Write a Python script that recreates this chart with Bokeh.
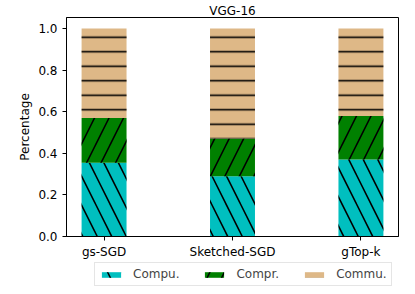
from bokeh.plotting import figure
from bokeh.layouts import column
from bokeh.models import (Range1d, FixedTicker, ColumnDataSource, Legend, LegendItem,
                          PrintfTickFormatter)
from bokeh.embed import file_html
from bokeh.resources import INLINE

# ---- data ----
methods = ["gs-SGD", "Sketched-SGD", "gTop-k"]
compu = [0.355, 0.289, 0.370]
compr = [0.214, 0.182, 0.209]
commu = [0.431, 0.529, 0.421]
series = ["Compu.", "Compr.", "Commu."]
y_ticks = [0.0, 0.2, 0.4, 0.6, 0.8, 1.0]
title = "VGG-16"
y_label = "Percentage"

FONT = "DejaVu Sans"
COLORS = ["#00bfbf", "#008000", "#deb887"]
HATCH = ["\\", "/", "-"]
HSCALE = [29, 29, 14.5]
STACK = ["compu", "compr", "commu"]
xs = list(range(len(methods)))
src = ColumnDataSource(dict(x=xs, compu=compu, compr=compr, commu=commu))

p = figure(width=407, height=261, output_backend="svg", toolbar_location=None,
           x_range=Range1d(-0.2925, 2.2925), y_range=Range1d(0, 1.0525),
           min_border_left=66, min_border_right=9, min_border_bottom=23, min_border_top=17)

p.title.text = title
p.title.align = "center"
p.title.text_font = FONT
p.title.text_font_size = "12px"
p.title.text_font_style = "normal"
p.title.text_color = "black"
p.title.standoff = 0
p.title.offset = 0

rs = p.vbar_stack(STACK, x="x", width=0.35, source=src,
                  fill_color=COLORS, line_color=None,
                  hatch_pattern=HATCH, hatch_color="black",
                  hatch_scale=HSCALE, hatch_weight=1.6)

p.xgrid.visible = False
p.ygrid.visible = False
p.outline_line_color = "black"
p.outline_line_width = 1

for ax in (p.xaxis[0], p.yaxis[0]):
    ax.axis_line_color = "black"
    ax.major_tick_line_color = "black"
    ax.major_tick_out = 4
    ax.major_tick_in = 0
    ax.minor_tick_line_color = None
    ax.major_label_text_font = FONT
    ax.major_label_text_font_size = "12px"
    ax.major_label_text_color = "black"

p.xaxis.ticker = FixedTicker(ticks=xs)
p.xaxis.major_label_overrides = {i: m for i, m in zip(xs, methods)}
p.xaxis.major_label_standoff = 4
p.xaxis.axis_label = None
p.xaxis.axis_label_standoff = 0
p.yaxis.ticker = FixedTicker(ticks=y_ticks)
p.yaxis.formatter = PrintfTickFormatter(format="%.1f")
p.yaxis.major_label_standoff = 5
p.yaxis.axis_label = y_label
p.yaxis.axis_label_text_font = FONT
p.yaxis.axis_label_text_font_size = "12px"
p.yaxis.axis_label_text_font_style = "normal"
p.yaxis.axis_label_text_color = "black"
p.yaxis.axis_label_standoff = 3

# ---- legend strip below the chart (its bars sit outside its visible y range) ----
q = figure(width=407, height=25, output_backend="svg", toolbar_location=None,
           x_range=Range1d(-0.2925, 2.2925), y_range=Range1d(2, 3),
           x_axis_location=None, y_axis_location=None,
           min_border_left=66, min_border_right=9, min_border_top=0, min_border_bottom=0)
q.grid.visible = False
q.outline_line_color = None
swatches = q.vbar_stack(STACK, x="x", width=0.35, source=src,
                        fill_color=COLORS, line_color=None,
                        hatch_pattern=HATCH, hatch_color="black",
                        hatch_scale=HSCALE, hatch_weight=1.6)

legend = Legend(items=[LegendItem(label=s, renderers=[r]) for s, r in zip(series, swatches)],
                orientation="horizontal", location=(28, 0),
                glyph_width=24, glyph_height=7, label_height=12, label_standoff=10,
                spacing=23, padding=4, margin=0,
                border_line_color="#cccccc", border_line_width=1,
                background_fill_alpha=0.8,
                label_text_font=FONT, label_text_font_size="12px")
q.add_layout(legend)

open("out.html", "w").write(file_html(column(p, q, spacing=0), INLINE))
